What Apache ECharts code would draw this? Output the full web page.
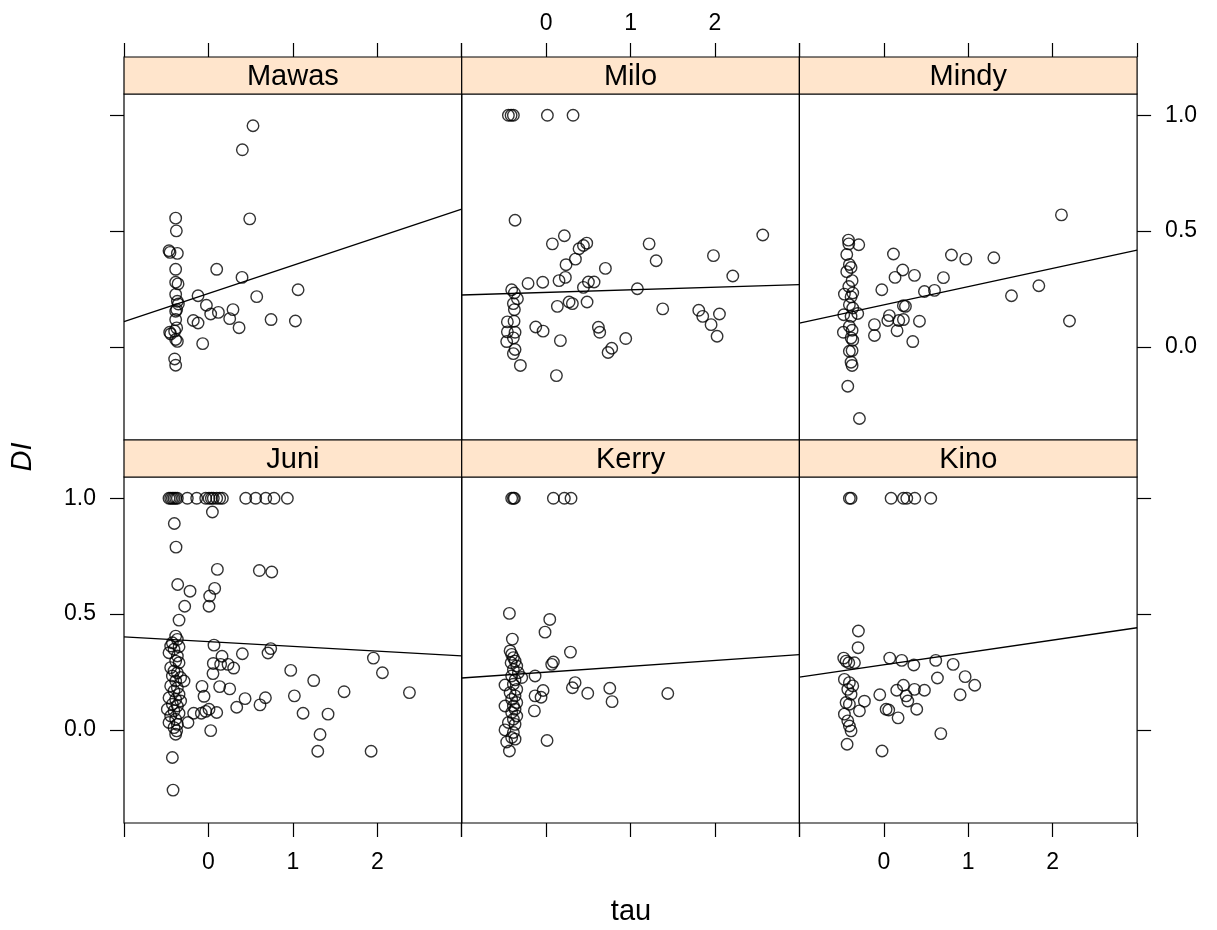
<!DOCTYPE html>
<html>
<head>
<meta charset="utf-8">
<script src="https://cdn.jsdelivr.net/npm/echarts@6/dist/echarts.min.js"></script>
<style>
  html, body { margin: 0; padding: 0; background: #fff; }
  #chart { width: 1217px; height: 930px; }
</style>
</head>
<body>
<div id="chart"></div>
<script>
// Panels in display order: top row then bottom row
const panelNames = ['Mawas', 'Milo', 'Mindy', 'Juni', 'Kerry', 'Kino'];
const tauTicks = [0, 1, 2];
const diTicks = [0, 0.5, 1];

// Least-squares fit per panel: DI = intercept + slope * tau
const fitIntercepts = [0.2305, 0.2353, 0.1818, 0.3815, 0.2493, 0.2813];
const fitSlopes = [0.1215, 0.01125, 0.07875, -0.0205, 0.02525, 0.05325];

// [tau, DI] observations per individual
const mawas = [
  [0.528,0.955],[0.402,0.851],[-0.388,0.556],[-0.380,0.501],[-0.467,0.415],[-0.455,0.408],
  [-0.368,0.404],[-0.388,0.335],[0.098,0.335],[0.489,0.553],[-0.388,0.279],[-0.360,0.272],
  [0.398,0.300],[-0.123,0.221],[0.572,0.217],[1.062,0.247],[-0.388,0.227],[-0.368,0.197],
  [-0.356,0.185],[-0.024,0.180],[-0.376,0.161],[-0.388,0.154],[0.118,0.149],[0.027,0.142],
  [0.291,0.161],[-0.179,0.114],[-0.123,0.103],[0.252,0.122],[0.742,0.118],[1.030,0.112],
  [-0.388,0.118],[0.363,0.083],[-0.376,0.082],[-0.459,0.063],[-0.447,0.056],[-0.400,0.068],
  [-0.388,0.032],[-0.368,0.024],[-0.068,0.014],[-0.400,-0.052],[-0.388,-0.079]
];
const milo = [
  [-0.447,1.0],[-0.415,1.0],[-0.388,1.0],[0.015,1.0],[0.319,1.0],[-0.368,0.547],
  [2.566,0.483],[0.216,0.480],[0.074,0.445],[1.220,0.445],[0.481,0.448],[0.442,0.438],
  [0.390,0.424],[1.982,0.394],[0.347,0.379],[1.303,0.372],[0.236,0.355],[0.702,0.339],
  [2.211,0.306],[0.228,0.300],[0.153,0.286],[-0.040,0.279],[-0.214,0.274],[0.501,0.280],
  [0.568,0.280],[0.442,0.257],[1.081,0.251],[-0.408,0.247],[-0.376,0.233],[-0.340,0.208],
  [-0.388,0.187],[0.133,0.175],[0.272,0.194],[0.311,0.187],[0.485,0.194],[-0.376,0.161],
  [1.381,0.164],[1.808,0.158],[1.855,0.132],[2.053,0.142],[1.954,0.096],[2.025,0.046],
  [-0.459,0.108],[-0.380,0.111],[-0.459,0.065],[-0.368,0.063],[-0.123,0.086],[-0.036,0.068],
  [0.619,0.085],[0.635,0.063],[-0.467,0.023],[-0.388,0.039],[-0.368,-0.011],[-0.388,-0.029],
  [0.169,0.027],[0.943,0.036],[0.777,-0.006],[0.734,-0.024],[-0.305,-0.080],[0.122,-0.124]
];
const mindy = [
  [2.104,0.570],[-0.419,0.461],[-0.415,0.445],[-0.297,0.441],[-0.439,0.399],[0.114,0.401],
  [0.801,0.397],[0.971,0.379],[1.303,0.385],[-0.408,0.356],[-0.388,0.343],[-0.439,0.325],
  [0.224,0.332],[0.133,0.300],[0.363,0.309],[0.706,0.299],[-0.376,0.286],[-0.415,0.261],
  [-0.024,0.247],[0.481,0.239],[0.600,0.244],[1.836,0.264],[-0.467,0.228],[-0.368,0.233],
  [-0.388,0.216],[1.512,0.221],[-0.408,0.182],[-0.368,0.168],[0.232,0.178],[0.256,0.175],
  [-0.475,0.139],[-0.309,0.144],[-0.388,0.132],[0.066,0.135],[0.047,0.114],[0.177,0.114],
  [0.232,0.118],[0.422,0.111],[2.199,0.112],[-0.111,0.096],[-0.408,0.089],[-0.479,0.063],
  [-0.376,0.072],[0.157,0.070],[-0.111,0.049],[-0.388,0.039],[-0.368,0.029],[0.343,0.023],
  [-0.408,-0.019],[-0.376,-0.016],[-0.388,-0.066],[-0.376,-0.080],[-0.427,-0.170],[-0.289,-0.309]
];
const juni = [
  [-0.467,1.0],[-0.447,1.0],[-0.427,1.0],[-0.408,1.0],[-0.388,1.0],[-0.368,1.0],
  [-0.250,1.0],[-0.139,1.0],[-0.032,1.0],[0.007,1.0],[0.035,1.0],[0.058,1.0],
  [0.098,1.0],[0.133,1.0],[0.165,1.0],[0.442,1.0],[0.560,1.0],[0.679,1.0],[0.777,1.0],[0.935,1.0],
  [0.047,0.941],[-0.404,0.891],[-0.384,0.789],[0.106,0.693],[0.603,0.688],[0.750,0.682],
  [-0.364,0.628],[-0.218,0.599],[0.074,0.611],[0.015,0.578],[0.007,0.534],[-0.281,0.534],
  [-0.348,0.474],
  [-0.388,0.405],[-0.368,0.391],[-0.427,0.376],[-0.447,0.362],[-0.348,0.359],[-0.408,0.348],
  [-0.467,0.333],[-0.368,0.319],[-0.388,0.297],[-0.348,0.290],[-0.447,0.269],[-0.408,0.254],
  [-0.368,0.247],[-0.427,0.233],[-0.329,0.226],[-0.388,0.211],[-0.289,0.211],[-0.447,0.190],
  [-0.368,0.182],[-0.408,0.168],[-0.348,0.154],[-0.467,0.139],[-0.388,0.132],[-0.329,0.125],
  [-0.427,0.111],[-0.368,0.103],[-0.487,0.089],[-0.408,0.082],[-0.348,0.072],[-0.447,0.060],
  [-0.388,0.046],[-0.467,0.032],[-0.368,0.024],[-0.408,0.010],[-0.376,-0.004],[-0.388,-0.019],
  [0.066,0.366],[0.706,0.332],[0.738,0.351],[0.402,0.329],[0.161,0.318],[1.954,0.310],
  [0.058,0.287],[0.145,0.283],[0.232,0.283],[0.299,0.267],[0.054,0.243],[0.975,0.257],
  [2.061,0.247],[1.247,0.213],[-0.076,0.188],[0.133,0.187],[0.252,0.177],[1.607,0.165],
  [2.381,0.161],[-0.052,0.145],[0.434,0.135],[0.675,0.139],[1.018,0.147],[0.611,0.108],
  [0.335,0.098],[0.007,0.089],[-0.032,0.080],[-0.084,0.072],[-0.175,0.072],[0.098,0.075],
  [1.121,0.072],[1.417,0.068],[-0.242,0.032],[0.027,-0.003],[1.322,-0.020],[1.295,-0.092],
  [1.927,-0.092],[-0.427,-0.119],[-0.419,-0.260]
];
const kerry = [
  [-0.408,1.0],[-0.388,1.0],[-0.376,1.0],[0.086,1.0],[0.216,1.0],[0.295,1.0],
  [-0.435,0.503],[0.043,0.477],[-0.013,0.422],[-0.400,0.392],[0.288,0.336],
  [-0.427,0.341],[-0.408,0.326],[-0.388,0.312],[-0.368,0.297],[-0.415,0.290],[-0.348,0.276],
  [-0.388,0.261],[-0.329,0.247],[-0.408,0.233],[-0.289,0.226],[-0.368,0.216],[-0.487,0.194],
  [-0.388,0.197],[-0.348,0.175],[-0.427,0.161],[-0.368,0.147],[-0.408,0.132],[-0.348,0.118],
  [-0.487,0.103],[-0.388,0.103],[-0.368,0.089],[-0.408,0.075],[-0.348,0.060],[-0.388,0.046],
  [-0.447,0.032],[-0.368,0.024],[-0.487,0.000],[-0.388,-0.011],[-0.408,-0.033],[-0.368,-0.040],
  [-0.467,-0.052],[-0.435,-0.091],
  [0.086,0.293],[0.066,0.283],[-0.131,0.233],[0.343,0.204],[0.311,0.182],[-0.036,0.170],
  [-0.131,0.147],[-0.060,0.141],[0.493,0.158],[0.754,0.180],[0.781,0.122],[1.441,0.157],
  [-0.139,0.082],[0.011,-0.046]
];
const kino = [
  [-0.408,1.0],[-0.388,1.0],[0.086,1.0],[0.232,1.0],[0.272,1.0],[0.367,1.0],[0.556,1.0],
  [-0.301,0.427],[-0.305,0.355],
  [-0.475,0.310],[-0.447,0.297],[-0.415,0.290],[-0.348,0.290],[-0.467,0.218],[-0.408,0.204],
  [-0.368,0.190],[-0.427,0.175],[-0.388,0.154],[-0.447,0.118],[-0.408,0.111],[-0.230,0.124],
  [-0.289,0.082],[-0.467,0.068],[-0.427,0.039],[-0.408,0.017],[-0.388,-0.004],[-0.435,-0.062],
  [0.070,0.310],[0.212,0.300],[0.355,0.280],[0.615,0.300],[0.821,0.283],[0.635,0.224],
  [0.963,0.230],[1.077,0.193],[0.904,0.152],[-0.048,0.152],[0.153,0.171],[0.232,0.193],
  [0.363,0.175],[0.481,0.171],[0.264,0.147],[0.284,0.125],[0.390,0.089],[0.027,0.089],
  [0.058,0.086],[0.169,0.052],[0.675,-0.016],[-0.021,-0.091]
];
const panelData = [mawas, milo, mindy, juni, kerry, kino];

// Layout of the 3 x 2 trellis
const FONT = '"Liberation Sans", Arial, Helvetica, sans-serif';
const LEFT0 = 124, PANEL_W = 337.7, PANEL_H = 346, STRIP_H = 37;
const ROW_TOPS = [94, 477];
const TAU_MIN = -1, TAU_MAX = 3;
const DI_MIN = -0.402, DI_MAX = 1.092;
const TICK_LEN = 14, LABEL_MARGIN = 28, TOP_LABEL_MARGIN = 22;

const grids = [], xAxes = [], yAxes = [], series = [], graphics = [];

panelNames.forEach((name, i) => {
  const row = Math.floor(i / 3), col = i % 3;
  const left = LEFT0 + col * PANEL_W, top = ROW_TOPS[row];

  grids.push({
    left: left, top: top, width: PANEL_W, height: PANEL_H,
    show: true, borderColor: '#000', borderWidth: 1.2, backgroundColor: 'transparent',
    containLabel: false
  });

  // x labels alternate: top above the middle column, bottom under the outer columns
  const xLabelOn = row === 0 ? col === 1 : col !== 1;
  xAxes.push({
    gridIndex: i, type: 'value', min: TAU_MIN, max: TAU_MAX, interval: 1,
    position: row === 0 ? 'top' : 'bottom',
    offset: row === 0 ? STRIP_H : 0,
    axisLine: { show: false, onZero: false },
    splitLine: { show: false },
    axisTick: { show: true, length: TICK_LEN, lineStyle: { color: '#000', width: 1.2 } },
    axisLabel: {
      show: xLabelOn, customValues: tauTicks,
      margin: row === 0 ? TOP_LABEL_MARGIN : LABEL_MARGIN,
      fontSize: 23, color: '#000', fontFamily: FONT
    }
  });

  // y ticks on the outer columns; labels on the left of Juni and right of Mindy
  const yTickOn = col !== 1;
  const yLabelOn = (row === 1 && col === 0) || (row === 0 && col === 2);
  yAxes.push({
    gridIndex: i, type: 'value', min: DI_MIN, max: DI_MAX,
    position: col === 2 ? 'right' : 'left',
    axisLine: { show: false, onZero: false },
    splitLine: { show: false },
    axisTick: { show: yTickOn, customValues: diTicks, length: TICK_LEN, lineStyle: { color: '#000', width: 1.2 } },
    axisLabel: {
      show: yLabelOn, customValues: diTicks, margin: LABEL_MARGIN,
      fontSize: 23, color: '#000', fontFamily: FONT,
      formatter: v => v.toFixed(1)
    }
  });

  series.push({
    type: 'scatter', xAxisIndex: i, yAxisIndex: i,
    data: panelData[i],
    symbol: 'circle', symbolSize: 11.5,
    itemStyle: { color: 'rgba(0,0,0,0)', borderColor: '#000', borderWidth: 1.4 },
    silent: true
  });

  const a = fitIntercepts[i], b = fitSlopes[i];
  series.push({
    type: 'line', xAxisIndex: i, yAxisIndex: i,
    data: [[TAU_MIN, a + b * TAU_MIN], [TAU_MAX, a + b * TAU_MAX]],
    symbol: 'none', lineStyle: { color: '#000', width: 1.3 },
    silent: true, z: 3
  });

  // strip header above each panel
  graphics.push({
    type: 'rect',
    shape: { x: left, y: top - STRIP_H, width: PANEL_W, height: STRIP_H },
    style: { fill: '#ffe5cc', stroke: '#000', lineWidth: 1.2 },
    z: 10
  });
  graphics.push({
    type: 'text',
    x: left + PANEL_W / 2, y: top - STRIP_H / 2 + 1,
    style: { text: name, fontSize: 29, fontFamily: FONT, fill: '#000', align: 'center', verticalAlign: 'middle' },
    z: 11
  });
});

// axis titles
graphics.push({
  type: 'text', x: 23, y: 457, rotation: Math.PI / 2,
  style: { text: 'DI', fontSize: 29, fontStyle: 'italic', fontFamily: FONT, fill: '#000', align: 'center', verticalAlign: 'middle' }
});
graphics.push({
  type: 'text', x: 631, y: 912,
  style: { text: 'tau', fontSize: 29, fontFamily: FONT, fill: '#000', align: 'center', verticalAlign: 'middle' }
});

const chart = echarts.init(document.getElementById('chart'), null, { renderer: 'canvas' });
chart.setOption({
  animation: false,
  backgroundColor: '#fff',
  grid: grids,
  xAxis: xAxes,
  yAxis: yAxes,
  series: series,
  graphic: graphics
});
</script>
</body>
</html>
